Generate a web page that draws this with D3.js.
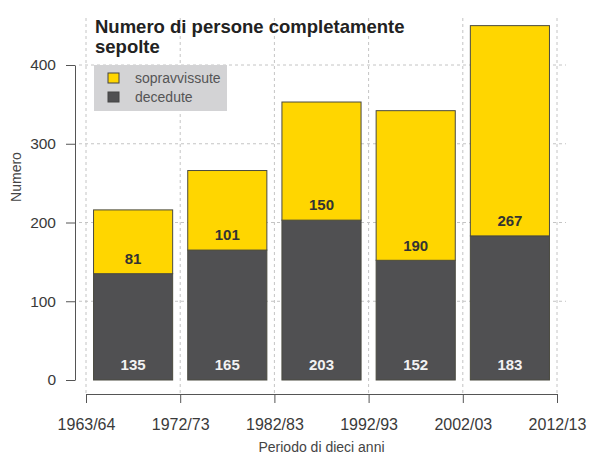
<!DOCTYPE html>
<html>
<head>
<meta charset="utf-8">
<script src="https://cdn.jsdelivr.net/npm/d3@7"></script>
<style>
  html, body { margin: 0; padding: 0; background: #fff; }
  svg { display: block; font-family: "Liberation Sans", Arial, Helvetica, sans-serif; }
</style>
</head>
<body>
<svg id="chart" width="591" height="458"></svg>
<script>
// Decades and buried persons per decade
const periods = ["1963/64–1972/73", "1972/73–1982/83", "1982/83–1992/93", "1992/93–2002/03", "2002/03–2012/13"];
const tickLabels = ["1963/64", "1972/73", "1982/83", "1992/93", "2002/03", "2012/13"];
const decedute = [135, 165, 203, 152, 183];
const sopravvissute = [81, 101, 150, 190, 267];
const yTicks = [0, 100, 200, 300, 400];

const seriesNames = ["decedute", "sopravvissute"];
const colors = { decedute: "#505052", sopravvissute: "#ffd600" };
const textColors = { decedute: "#f2f2f2", sopravvissute: "#333" };

const rows = periods.map((p, i) => ({ period: p, decedute: decedute[i], sopravvissute: sopravvissute[i] }));
const stacked = d3.stack().keys(seriesNames)(rows);

const svg = d3.select("#chart");

const left = 86, right = 557, bottom = 380, top400 = 65;
const x = d3.scaleBand().domain(periods).range([left, right]).paddingInner(0.16).paddingOuter(0.08);
const xEdges = d3.scalePoint().domain(tickLabels).range([left, right]);
const y = d3.scaleLinear().domain([0, 400]).range([bottom, top400]);

// Grid
const grid = svg.append("g").attr("stroke", "#c4c4c4").attr("stroke-width", 1).attr("stroke-dasharray", "3,3");
grid.selectAll("line.h").data(yTicks.filter(d => d > 0)).join("line")
  .attr("x1", 79).attr("x2", 566).attr("y1", d => y(d)).attr("y2", d => y(d));
grid.selectAll("line.v").data(tickLabels).join("line")
  .attr("x1", d => xEdges(d)).attr("x2", d => xEdges(d)).attr("y1", 18).attr("y2", 394);

// Bars
const layer = svg.append("g").selectAll("g").data(stacked).join("g")
  .attr("fill", d => colors[d.key]);
layer.selectAll("rect").data(d => d).join("rect")
  .attr("x", d => x(d.data.period))
  .attr("width", x.bandwidth())
  .attr("y", d => y(d[1]))
  .attr("height", d => y(d[0]) - y(d[1]))
  .attr("stroke", "#4a4a40").attr("stroke-width", 1);

// Value labels just above the bottom of each segment
const labels = svg.append("g").selectAll("g").data(stacked).join("g")
  .attr("fill", d => textColors[d.key]);
labels.selectAll("text").data(d => d).join("text")
  .attr("x", d => x(d.data.period) + x.bandwidth() / 2)
  .attr("y", d => y(d[0]) - 15)
  .attr("dy", "0.35em")
  .attr("text-anchor", "middle")
  .attr("font-size", 15).attr("font-weight", "bold")
  .text(d => d[1] - d[0]);

// Y axis
const yAxis = svg.append("g").attr("transform", "translate(75,0)")
  .call(d3.axisLeft(y).tickValues(yTicks).tickSize(9).tickSizeOuter(0).tickPadding(10));
yAxis.select(".domain").attr("stroke", "#555");
yAxis.selectAll(".tick line").attr("stroke", "#555");
yAxis.selectAll(".tick text").attr("font-size", 15.5).attr("fill", "#3a3a3a").attr("font-family", null);

// X axis with ticks on the period boundaries
const xAxis = svg.append("g").attr("transform", "translate(0,394)")
  .call(d3.axisBottom(xEdges).tickSize(9).tickSizeOuter(0).tickPadding(16));
xAxis.select(".domain").attr("stroke", "#555");
xAxis.selectAll(".tick line").attr("stroke", "#555");
xAxis.selectAll(".tick text").attr("font-size", 16).attr("fill", "#3a3a3a").attr("font-family", null);

// Axis titles
svg.append("text").attr("x", (left + right) / 2).attr("y", 452)
  .attr("text-anchor", "middle").attr("font-size", 14).attr("fill", "#444")
  .text("Periodo di dieci anni");
svg.append("text").attr("transform", "translate(21,177) rotate(-90)")
  .attr("text-anchor", "middle").attr("font-size", 14).attr("fill", "#444")
  .text("Numero");

// Title
const title = svg.append("text").attr("x", 95).attr("font-size", 18.5).attr("font-weight", "bold").attr("fill", "#222");
title.append("tspan").attr("x", 95).attr("y", 33).text("Numero di persone completamente");
title.append("tspan").attr("x", 95).attr("y", 53).text("sepolte");

// Legend
const legendItems = ["sopravvissute", "decedute"];
const legend = svg.append("g");
legend.append("rect").attr("x", 94).attr("y", 65).attr("width", 133).attr("height", 46).attr("fill", "#d3d3d5");
const li = legend.selectAll("g").data(legendItems).join("g")
  .attr("transform", (d, i) => `translate(108,${73 + i * 19})`);
li.append("rect").attr("width", 11).attr("height", 10)
  .attr("fill", d => colors[d]).attr("stroke", "#444").attr("stroke-width", 1);
li.append("text").attr("x", 27).attr("y", 5).attr("dy", "0.35em")
  .attr("font-size", 14).attr("fill", "#555").text(d => d);
</script>
</body>
</html>
